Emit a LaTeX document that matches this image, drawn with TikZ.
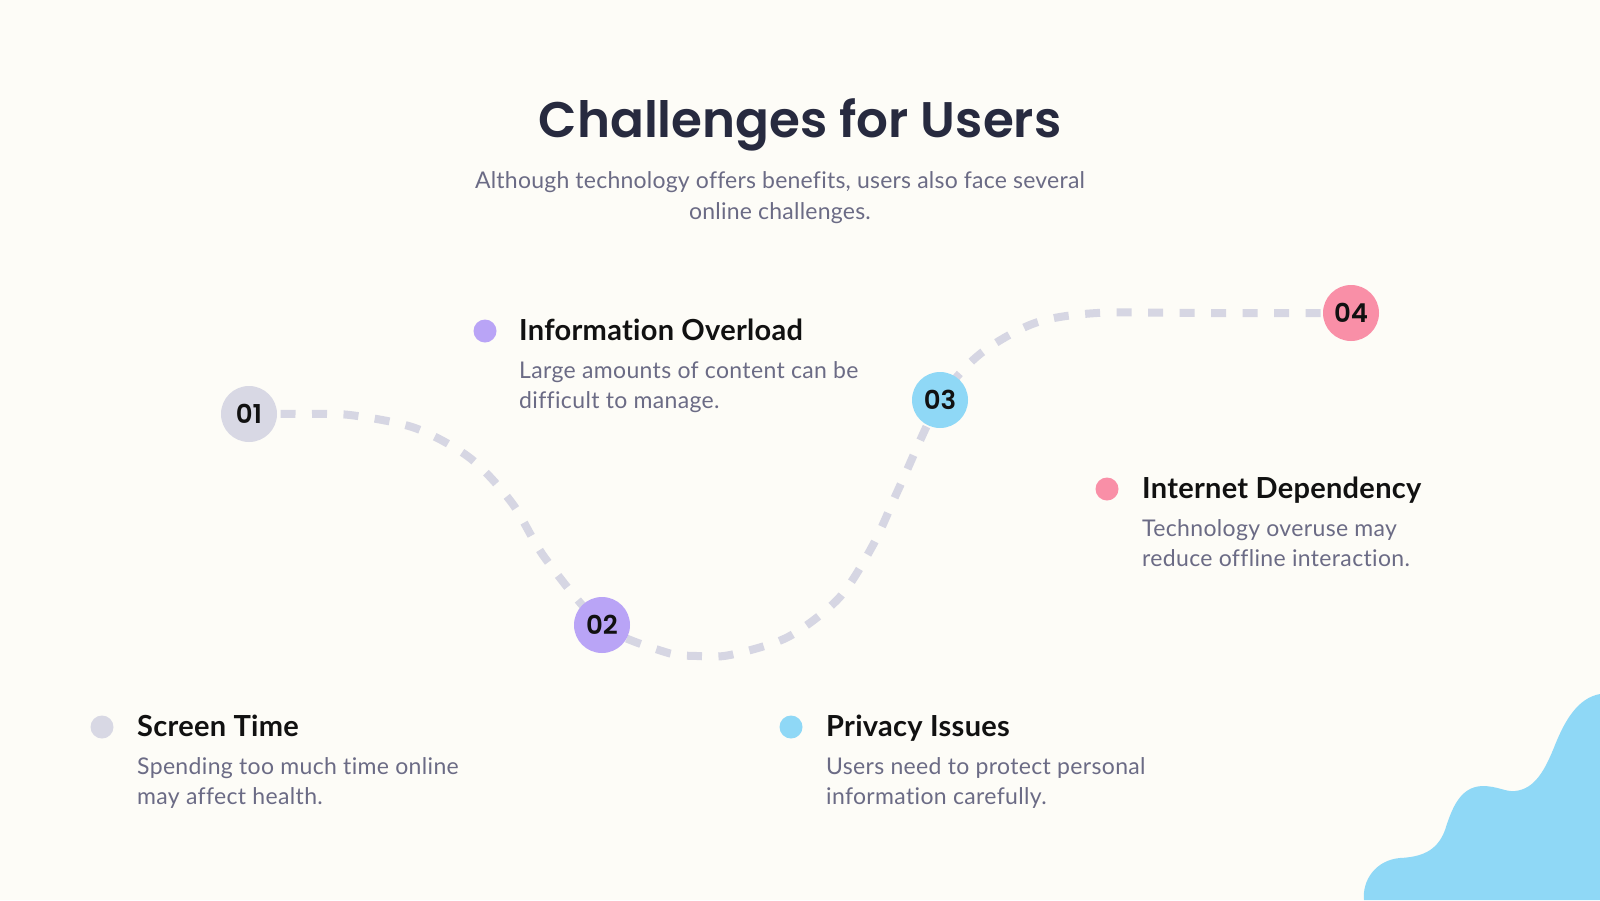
\documentclass[tikz,border=0pt]{standalone}
\usepackage{fontspec}
\setmainfont{Lato}[Ligatures=NoCommon]
\newfontfamily\titlefont{Poppins SemiBold}
\newfontfamily\bodyfont{Lato}[LetterSpace=1.5, Ligatures=NoCommon]
\newfontfamily\subfont{Lato}[LetterSpace=1.0, Ligatures=NoCommon]
\newfontfamily\headfont{Lato}[LetterSpace=1.0, Ligatures=NoCommon]
\definecolor{bgc}{HTML}{FDFCF7}
\definecolor{titlec}{HTML}{272A3F}
\definecolor{bodyc}{HTML}{6B6B85}
\definecolor{headc}{HTML}{111111}
\definecolor{grayc}{HTML}{D8D8E4}
\definecolor{trailc}{HTML}{D6D6E3}
\definecolor{purplec}{HTML}{B9A4F6}
\definecolor{bluec}{HTML}{8FD8F6}
\definecolor{pinkc}{HTML}{F98FA7}
\tikzset{
  numc/.style={circle, minimum size=56pt, inner sep=0pt, text=headc, font=\titlefont\fontsize{26}{30}\selectfont},
  dotc/.style={circle, minimum size=23pt, inner sep=0pt},
  head/.style={anchor=base west, inner sep=0pt, text=headc, font=\headfont\bfseries\fontsize{29}{34}\selectfont},
  bodyt/.style={anchor=base west, inner sep=0pt, text=bodyc, font=\bodyfont\fontsize{23}{30}\selectfont},
  subt/.style={anchor=base, inner sep=0pt, text=bodyc, font=\subfont\fontsize{23}{30}\selectfont},
  trail/.style={draw=trailc, line width=8pt, dash pattern=on 15pt off 16.5pt}
}
\begin{document}
\begin{tikzpicture}[x=1pt,y=-1pt]
\fill[bgc] (0,0) rectangle (1600,900);
\useasboundingbox (0,0) rectangle (1600,900);
% blob
\fill[bluec] (1364,900) .. controls (1362,880) and (1376,860) .. (1400,858)
  .. controls (1420,857) and (1437,852) .. (1445,830)
  .. controls (1452,808) and (1460,787) .. (1482,786)
  .. controls (1498,786) and (1505,792) .. (1515,791)
  .. controls (1535,789) and (1545,770) .. (1555,745)
  .. controls (1565,720) and (1578,698) .. (1600,694) -- (1600,900) -- cycle;
% title
\node[anchor=base, inner sep=0pt, text=titlec, font=\titlefont\fontsize{50}{60}\selectfont] (title) at (800,137) {Challenges for Users};
\node[subt] (sub1) at (780,188) {Although technology offers benefits, users also face several};
\node[subt] (sub2) at (780,219) {online challenges.};
% trail
\draw[trail] plot[smooth] coordinates {(249,414) (300,414) (350,415) (415,428) (470,458) (512,503) (545,558) (602,625) (665,652) (697,656) (730,655) (788,637) (839,598) (873,545) (899,488) (940,400) (980,354) (1035,323) (1097,313) (1200,313) (1351,313)};
% numbered circles
\node[numc, fill=grayc] (n1) at (249,414) {01};
\node[numc, fill=purplec] (n2) at (602,625) {02};
\node[numc, fill=bluec] (n3) at (940,400) {03};
\node[numc, fill=pinkc] (n4) at (1351,313) {04};
% items
\node[dotc, fill=purplec] (d2) at (485,331) {};
\node[head] (h2) at (519,340) {Information Overload};
\node[bodyt] (b2a) at (519,378) {Large amounts of content can be};
\node[bodyt] (b2b) at (519,408) {difficult to manage.};

\node[dotc, fill=pinkc] (d4) at (1107,489) {};
\node[head] (h4) at (1142,498) {Internet Dependency};
\node[bodyt] (b4a) at (1142,536) {Technology overuse may};
\node[bodyt] (b4b) at (1142,566) {reduce offline interaction.};

\node[dotc, fill=grayc] (d1) at (102,727) {};
\node[head] (h1) at (137,736) {Screen Time};
\node[bodyt] (b1a) at (137,774) {Spending too much time online};
\node[bodyt] (b1b) at (137,804) {may affect health.};

\node[dotc, fill=bluec] (d3) at (791,727) {};
\node[head] (h3) at (826,736) {Privacy Issues};
\node[bodyt] (b3a) at (826,774) {Users need to protect personal};
\node[bodyt] (b3b) at (826,804) {information carefully.};
\end{tikzpicture}
\end{document}
